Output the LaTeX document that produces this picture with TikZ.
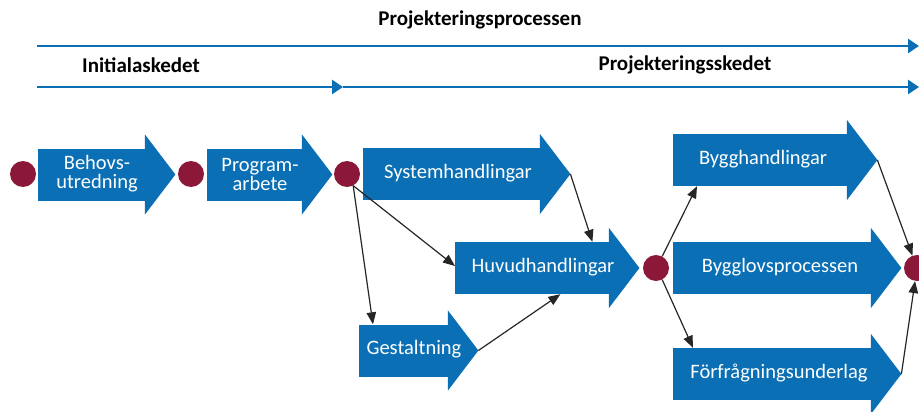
\documentclass[tikz,border=0pt]{standalone}
\usepackage{fontspec}
\setmainfont{Carlito}
\usetikzlibrary{arrows.meta}
\definecolor{myblue}{RGB}{10,111,181}
\definecolor{mydot}{RGB}{139,24,56}
\newcommand\blockhead[1]{%
  \coordinate (#1-tip) at ([xshift=30pt]#1.east);
  \fill[myblue] ([xshift=-0.6pt,yshift=14pt]#1.north east) -- (#1-tip) -- ([xshift=-0.6pt,yshift=-14pt]#1.south east) -- cycle;}
\begin{document}
\begin{tikzpicture}[x=1pt,y=-1pt,
  body/.style={fill=myblue, inner sep=0pt, minimum height=52pt, anchor=west},
  lbl/.style={text=white, font=\fontsize{20.5}{19}\selectfont, align=center, inner sep=0pt},
  head/.style={font=\bfseries\fontsize{21}{24}\selectfont, inner sep=0pt},
  dot/.style={circle, fill=mydot, minimum size=26pt, inner sep=0pt},
  conn/.style={draw=black!85, line width=1.2pt, -{Triangle[length=12pt,width=9.5pt]}},
  tline/.style={draw=myblue, line width=2.6pt, -{Triangle[length=11pt,width=14pt]}}]
\useasboundingbox (0,0) rectangle (919,412);

% timeline
\node[head] (tP) at (480,20) {Projekteringsprocessen};
\node[head] (tI) at (141,65) {Initialaskedet};
\node[head] (tS) at (685,65) {Projekteringsskedet};
\coordinate (a1) at (37,46);
\coordinate (a2) at (919,46);
\coordinate (b1) at (37,87);
\coordinate (b2) at (343,87);
\coordinate (b3) at (919,87);
\draw[tline] (a1) -- (a2);
\draw[tline] (b1) -- (b2);
\draw[tline] (b2) -- (b3);

% block arrows (bodies)
\node[body, minimum width=107pt] (beh) at (38,174.5) {};
\node[body, minimum width=95pt] (prog) at (207,174.5) {};
\node[body, minimum width=177pt] (sys) at (363,174) {};
\node[body, minimum width=154pt] (huvud) at (455,268) {};
\node[body, minimum width=89pt] (gest) at (359,350.5) {};
\node[body, minimum width=174pt] (bygg) at (673,160) {};
\node[body, minimum width=198pt] (lov) at (673,268) {};
\node[body, minimum width=198pt] (forf) at (673,374) {};
\blockhead{beh}
\blockhead{prog}
\blockhead{sys}
\blockhead{huvud}
\blockhead{gest}
\blockhead{bygg}
\blockhead{lov}
\blockhead{forf}

% labels
\node[lbl] (behT) at (97,174) {Behovs-\\utredning};
\node[lbl] (progT) at (260,174) {Program-\\arbete};
\node[lbl] (sysT) at (458,173) {Systemhandlingar};
\node[lbl] (huvudT) at (543,267) {Huvudhandlingar};
\node[lbl] (gestT) at (414,349) {Gestaltning};
\node[lbl] (byggT) at (763,159) {Bygghandlingar};
\node[lbl] (lovT) at (780,267) {Bygglovsprocessen};
\node[lbl] (forfT) at (779,373) {Förfrågningsunderlag};

% dots
\node[dot] (c1) at (23,174) {};
\node[dot] (c2) at (191,174) {};
\node[dot] (c3) at (347,174) {};
\node[dot] (c4) at (656,268) {};
\node[dot] (c5) at (917,268) {};

% connectors
\draw[conn] (c3.-62) -- ([yshift=2pt]huvud.west);
\draw[conn] (c3.-62) -- ([xshift=14pt]gest.north west);
\draw[conn] (sys-tip) -- ([xshift=-17pt]huvud.north east);
\draw[conn] (gest-tip) -- ([xshift=-49pt]huvud.south east);
\draw[conn] (c4.62) -- ([xshift=24pt]bygg.south west);
\draw[conn] (c4.-62) -- ([xshift=20pt]forf.north west);
\draw[conn] (bygg-tip) -- (c5);
\draw[conn] (forf-tip) -- (c5);
\end{tikzpicture}
\end{document}
